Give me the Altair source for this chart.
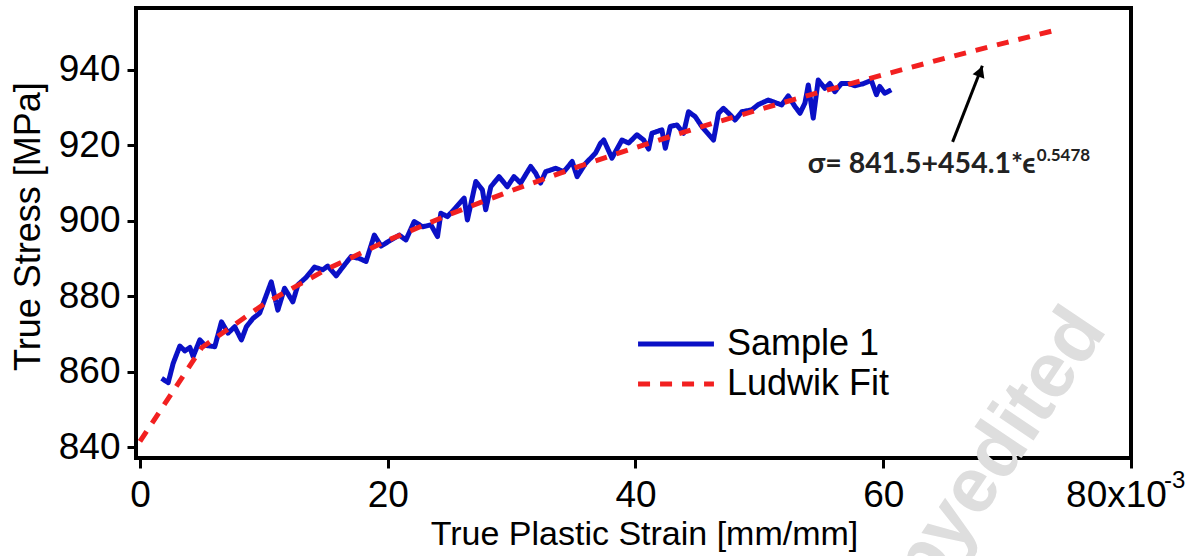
import altair as alt
import pandas as pd

# ---- data (strain in units of 1e-3 mm/mm, stress in MPa) ----
sample_strain = [1.75, 2.28, 2.68, 3.22, 3.62, 4.03, 4.29, 4.83, 5.23, 6.04,
                 6.58, 7.11, 7.65, 8.19, 8.59, 9.12, 9.66, 10.6, 11.13, 11.67,
                 12.34, 12.75, 13.42, 14.09, 14.76, 15.16, 15.84, 16.37, 17.04, 17.71,
                 18.25, 18.92, 19.46, 20.27, 20.93, 21.47, 22.14, 22.81, 23.49, 24.02,
                 24.29, 24.82, 25.5, 26.17, 26.43, 27.11, 27.64, 27.91, 28.32, 28.99,
                 29.65, 30.19, 30.73, 31.54, 31.94, 32.34, 32.75, 33.55, 34.22, 34.89,
                 35.29, 35.97, 36.77, 37.17, 37.44, 38.1, 38.91, 39.45, 40.12, 40.66,
                 41.06, 41.33, 42.13, 42.41, 42.81, 43.34, 43.88, 44.28, 44.82, 45.35,
                 46.3, 46.7, 47.1, 47.64, 48.04, 48.58, 49.38, 49.92, 50.72, 51.8,
                 52.33, 52.87, 53.28, 53.68, 53.95, 54.35, 54.75, 55.29, 55.69, 56.09,
                 56.63, 57.17, 57.7, 58.37, 59.04, 59.45, 59.72, 60.12, 60.65]
sample_stress = [858.2, 857.1, 862.2, 866.8, 865.5, 866.4, 864.0, 868.4, 867.0, 866.6,
                 873.2, 870.2, 871.9, 868.4, 871.9, 874.1, 875.5, 883.8, 876.3, 882.1,
                 878.5, 883.0, 885.0, 887.7, 887.0, 888.0, 885.4, 887.7, 890.5, 890.0,
                 889.2, 896.2, 893.3, 894.9, 896.2, 894.9, 899.8, 898.4, 898.9, 895.8,
                 902.0, 901.1, 903.5, 906.0, 900.2, 910.4, 908.2, 902.9, 909.0, 911.7,
                 909.0, 911.7, 910.0, 914.4, 912.6, 910.0, 913.0, 913.9, 913.0, 915.7,
                 911.7, 915.2, 917.9, 920.5, 921.4, 916.6, 921.4, 920.6, 922.8, 921.4,
                 919.0, 923.2, 924.1, 919.2, 925.0, 925.4, 923.2, 928.9, 927.6, 925.0,
                 921.4, 928.5, 929.8, 928.1, 926.7, 928.9, 929.4, 930.8, 932.0, 930.7,
                 933.1, 930.3, 928.5, 931.2, 936.0, 927.2, 937.3, 935.1, 936.4, 934.2,
                 936.4, 936.4, 935.8, 936.3, 937.2, 933.4, 935.6, 933.8, 934.7]

fit_strain = [0, 5, 10, 15, 20, 25, 30, 35, 40, 45, 50, 55, 60, 65, 70, 74]
fit_stress = [841.5, 866.4, 877.9, 887.0, 894.8, 901.7, 908.0, 913.9, 919.4, 924.6,
              929.5, 934.2, 938.7, 943.1, 947.3, 950.6]

series_names = ["Sample 1", "Ludwik Fit"]
series_colors = ["#0a10c6", "#f22020"]
x_ticks = [0, 20, 40, 60, 80]
y_ticks = [840, 860, 880, 900, 920, 940]

formula_text = "σ= 841.5+454.1*ϵ"
formula_exp = "0.5478"
formula_pos = [53.9, 912.6]
exp_pos = [72.4, 915.8]
arrow_tail = [65.6, 920.9]
arrow_tip = [68.0, 941.1]
arrow_head = [67.85, 939.6]

sample_df = pd.DataFrame({"strain": sample_strain, "stress": sample_stress,
                          "series": "Sample 1", "i": range(len(sample_strain))})
fit_df = pd.DataFrame({"strain": fit_strain, "stress": fit_stress,
                       "series": "Ludwik Fit", "i": range(len(fit_strain))})

FONT = "Liberation Sans"

legend = alt.Legend(orient="none", legendX=522, legendY=318, title=None,
                    symbolType="M-3,0H3", symbolSize=640, symbolStrokeWidth=5,
                    labelFont=FONT, labelFontSize=36, labelColor="black",
                    labelOffset=33, labelLimit=0, rowPadding=4, padding=0)

xscale = alt.Scale(domain=[-0.32, 80], nice=False, zero=False)
yscale = alt.Scale(domain=[837.1, 956.4], nice=False, zero=False)

xaxis = alt.Axis(values=x_ticks, title="True Plastic Strain [mm/mm]",
                 labelExpr="datum.value == 80 ? '80x10' : datum.label",
                 labelFlush=False,
                 labelOffset=alt.condition("datum.value == 80", alt.value(-15), alt.value(0)),
                 labelPadding=9, titleX=508, titleY=76, titleBaseline="middle",
                 titleFontSize=34)
yaxis = alt.Axis(values=y_ticks, title="True Stress [MPa]", tickSize=9,
                 labelPadding=7, titleAngle=270, titleX=-108, titleY=218,
                 titleBaseline="middle", titleAlign="center", titleFontSize=36)

color = alt.Color("series:N", scale=alt.Scale(domain=series_names, range=series_colors),
                  legend=legend)
dash = alt.StrokeDash("series:N", scale=alt.Scale(domain=series_names,
                                                  range=[[1, 0], [12, 10]]),
                      legend=legend)

one = pd.DataFrame({"a": [0]})

watermark = alt.Chart(one).mark_text(
    text="Not Copyedited", angle=304, align="right", baseline="alphabetic",
    font=FONT, fontSize=78, fontWeight="bold", color="#dedede"
).encode(x=alt.value(972), y=alt.value(322))

sample_line = alt.Chart(sample_df).mark_line(strokeWidth=5, strokeJoin="round").encode(
    x=alt.X("strain:Q", scale=xscale, axis=xaxis),
    y=alt.Y("stress:Q", scale=yscale, axis=yaxis),
    color=color, strokeDash=dash, order="i:Q")

fit_line = alt.Chart(fit_df).mark_line(strokeWidth=5).encode(
    x="strain:Q", y="stress:Q", color=color, strokeDash=dash, order="i:Q")

formula = alt.Chart(one).mark_text(
    text=formula_text, align="left", baseline="alphabetic",
    font="Lato", fontSize=28.5, fontWeight="bold", color="#222222"
).encode(x=alt.datum(formula_pos[0]), y=alt.datum(formula_pos[1]))

formula_sup = alt.Chart(one).mark_text(
    text=formula_exp, align="left", baseline="alphabetic",
    font="Lato", fontSize=17, fontWeight="bold", color="#222222"
).encode(x=alt.datum(exp_pos[0]), y=alt.datum(exp_pos[1]))

arrow_df = pd.DataFrame({"x": [arrow_tail[0]], "y": [arrow_tail[1]],
                         "x2": [arrow_tip[0]], "y2": [arrow_tip[1]]})
arrow = alt.Chart(arrow_df).mark_rule(strokeWidth=3, color="black").encode(
    x="x:Q", y="y:Q", x2="x2:Q", y2="y2:Q")
head_df = pd.DataFrame({"x": [arrow_head[0]], "y": [arrow_head[1]]})
head = alt.Chart(head_df).mark_point(
    shape="triangle-up", filled=True, size=160, angle=21.5, color="black", opacity=1
).encode(x="x:Q", y="y:Q")

exp3 = alt.Chart(one).mark_text(
    text="-3", align="left", baseline="top", font=FONT, fontSize=24, color="black", dx=33
).encode(x=alt.datum(80), y=alt.value(461))

chart = alt.layer(
    watermark, sample_line, fit_line, formula, formula_sup, arrow, head, exp3
).properties(
    width=995, height=450,
    autosize=alt.AutoSizeParams(type="none"),
    padding={"left": 136, "top": 8, "right": 66, "bottom": 98},
    background="white"
).configure_view(
    stroke="black", strokeWidth=4
).configure_axis(
    domain=False, grid=False, ticks=True, tickColor="black", tickWidth=3,
    tickSize=10, labelFont=FONT, labelFontSize=37, labelColor="black",
    titleFont=FONT, titleColor="black", titleFontWeight="normal"
)

chart.save("out.html", embed_options={"renderer": "svg", "actions": False})
